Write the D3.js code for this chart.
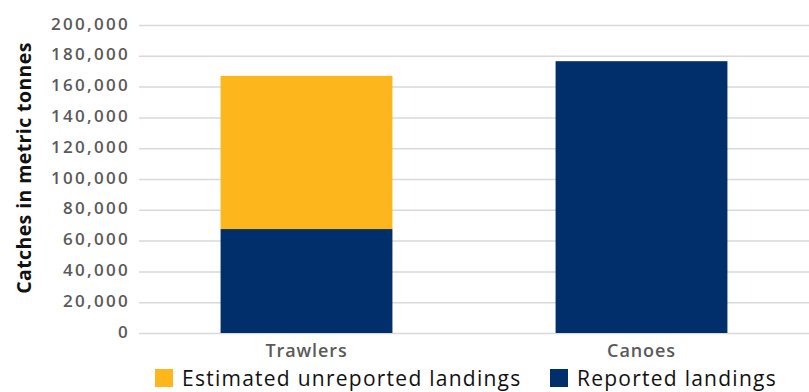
<!DOCTYPE html>
<html><head><meta charset="utf-8">
<script src="https://cdn.jsdelivr.net/npm/d3@7"></script>
<style>
body{margin:0;background:#fff;}
svg{display:block;}
text{font-family:"Open Sans","Noto Sans",sans-serif;}
</style></head>
<body><svg id="chart" width="809" height="392"></svg>
<script>
const categories = ["Trawlers", "Canoes"];
const reported = [67500, 176500];
const unreported = [99500, 0];
const seriesNames = ["Estimated unreported landings", "Reported landings"];
const seriesColors = ["#FDB61C", "#002F6C"];
const yTicks = [0, 20000, 40000, 60000, 80000, 100000, 120000, 140000, 160000, 180000, 200000];
const yTitle = "Catches in metric tonnes";

const svg = d3.select("#chart");
const m = {left: 139, right: 0, top: 25, bottom: 59};
const W = 809, H = 392;
const x = d3.scaleBand().domain(categories).range([m.left, W - m.right]).paddingInner(0.487).paddingOuter(0.2435);
const y = d3.scaleLinear().domain([0, 200000]).range([H - m.bottom, m.top]);

// grid + y tick labels
const yAxis = d3.axisLeft(y).tickValues(yTicks).tickSize(-(W - m.left - m.right)).tickPadding(9).tickFormat(d3.format(",d"));
const gy = svg.append("g").attr("transform", `translate(${m.left},0)`).call(yAxis);
gy.select(".domain").remove();
gy.selectAll(".tick line").attr("stroke", "#d9d9d9").attr("stroke-width", 1.5);
gy.selectAll(".tick text").attr("fill", "#5a5a5a").attr("font-size", 17).attr("font-weight", 600)
  .attr("letter-spacing", "2.3px").attr("dy", "0.24em");

const data = categories.map((c, i) => ({cat: c, reported: reported[i], unreported: unreported[i]}));
const stack = d3.stack().keys(["reported", "unreported"])(data);
const colorByKey = {reported: seriesColors[1], unreported: seriesColors[0]};
svg.append("g").selectAll("g").data(stack).join("g")
  .attr("fill", d => colorByKey[d.key])
  .selectAll("rect").data(d => d.filter(p => p[1] > p[0])).join("rect")
  .attr("x", d => x(d.data.cat))
  .attr("width", x.bandwidth())
  .attr("y", d => y(d[1]))
  .attr("height", d => y(d[0]) - y(d[1]));

// x axis labels
const xAxis = d3.axisBottom(x).tickSize(0).tickPadding(11);
const gx = svg.append("g").attr("transform", `translate(0,${H - m.bottom})`).call(xAxis);
gx.select(".domain").remove();
gx.selectAll(".tick text").attr("fill", "#5a5a5a").attr("font-size", 18).attr("font-weight", 600)
  .attr("letter-spacing", "0.9px");

// y title
svg.append("text").attr("transform", `translate(31,168) rotate(-90)`)
  .attr("text-anchor", "middle").attr("font-size", 19.5).attr("font-weight", 700).attr("fill", "#111")
  .attr("letter-spacing", "0.4px")
  .text(yTitle);

// legend
const legX = [155, 550];
const leg = svg.append("g");
seriesNames.forEach((n, i) => {
  leg.append("rect").attr("x", legX[i]).attr("y", 369).attr("width", 18).attr("height", 18).attr("fill", seriesColors[i]);
  leg.append("text").attr("x", legX[i] + 27).attr("y", 386).attr("font-size", 21).attr("fill", "#111")
    .attr("letter-spacing", "1.25px").text(n);
});
</script></body></html>
